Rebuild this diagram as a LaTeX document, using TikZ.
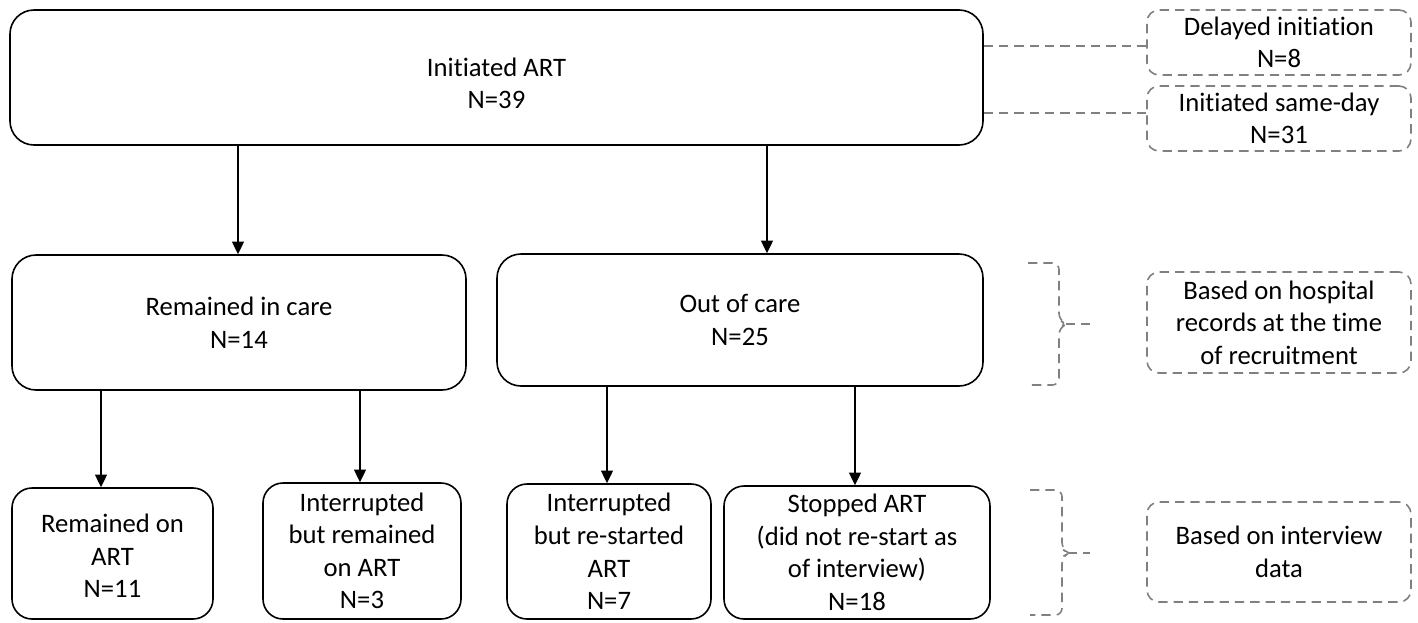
\documentclass[tikz,border=0pt]{standalone}
\usepackage{fontspec}
\setmainfont[Ligatures=NoCommon]{Carlito}
\usetikzlibrary{fit,arrows.meta}
\definecolor{dgray}{HTML}{808080}
\begin{document}
\begin{tikzpicture}[x=0.75pt,y=-0.75pt,
  txt/.style={align=center,inner sep=0pt,font=\fontsize{20}{24.4}\selectfont},
  box/.style={draw=black,line width=1.2pt,rounded corners=18pt,inner sep=0pt},
  sbox/.style={box,rounded corners=15pt},
  dbox/.style={draw=dgray,line width=1.2pt,dash pattern=on 7pt off 4.5pt,rounded corners=9pt,inner sep=0pt},
  arr/.style={line width=1.1pt,-{Triangle[length=9.5pt,width=9pt]}},
  dline/.style={draw=dgray,line width=1.2pt,dash pattern=on 7pt off 4.5pt}]
\useasboundingbox (0,0) rectangle (1418,622);
% main boxes
\node[box,fit={(10,10) (983,145)}] (top) {};
\node[txt,yshift=-4.5pt] (topt) at (top.center) {Initiated ART\\N=39};
\node[box,fit={(12,255) (466,390)}] (rem) {};
\node[txt] (remt) at (rem.center) {Remained in care\\N=14};
\node[box,fit={(497,254) (983,386)}] (out) {};
\node[txt] (outt) at (out.center) {Out of care\\N=25};
\node[sbox,fit={(12,488) (213,619)}] (b1) {};
\node[txt,yshift=-2pt] (b1t) at (b1.center) {Remained on\\ART\\N=11};
\node[sbox,fit={(263,483) (461,619)}] (b2) {};
\node[txt] (b2t) at (b2.center) {Interrupted\\but remained\\on ART\\N=3};
\node[sbox,fit={(507,484) (711,619)}] (b3) {};
\node[txt] (b3t) at (b3.center) {Interrupted\\but re-started\\ART\\N=7};
\node[sbox,fit={(724,486) (990,619)}] (b4) {};
\node[txt] (b4t) at (b4.center) {Stopped ART\\(did not re-start as\\of interview)\\N=18};
% dashed side boxes
\node[dbox,fit={(1147,10) (1411,75)}] (del) {};
\node[txt] (delt) at (del.center) {Delayed initiation\\N=8};
\node[dbox,fit={(1147,86) (1411,151)}] (same) {};
\node[txt] (samet) at (same.center) {Initiated same-day\\N=31};
\node[dbox,fit={(1147,272) (1411,373)}] (hosp) {};
\node[txt] (hospt) at (hosp.center) {Based on hospital\\records at the time\\of recruitment};
\node[dbox,fit={(1147,502) (1411,602)}] (intv) {};
\node[txt] (intvt) at (intv.center) {Based on interview\\data};
% arrows
\coordinate (x1) at (238,0);
\coordinate (x2) at (767,0);
\coordinate (x3) at (101,0);
\coordinate (x4) at (360,0);
\coordinate (x5) at (607,0);
\coordinate (x6) at (855,0);
\draw[arr] (x1 |- top.south) -- (x1 |- rem.north);
\draw[arr] (x2 |- top.south) -- (x2 |- out.north);
\draw[arr] (x3 |- rem.south) -- (x3 |- b1.north);
\draw[arr] (x4 |- rem.south) -- (x4 |- b2.north);
\draw[arr] (x5 |- out.south) -- (x5 |- b3.north);
\draw[arr] (x6 |- out.south) -- (x6 |- b4.north);
% dashed connectors to side boxes
\coordinate (y1) at (0,46);
\coordinate (y2) at (0,113);
\draw[dline] (top.east |- y1) -- (del.west |- y1);
\draw[dline] (top.east |- y2) -- (same.west |- y2);
% braces
\draw[dline,rounded corners=5pt] (1028,263) -- (1059,263) -- (1059,320) -- (1067,324) -- (1059,328) -- (1059,385) -- (1028,385);
\coordinate (t1) at (1066,324);
\draw[dline] (t1) -- (t1 -| 1090,0);
\draw[dline,rounded corners=5pt] (1030,490) -- (1062,490) -- (1062,549) -- (1069,553) -- (1062,557) -- (1062,615) -- (1030,615);
\coordinate (t2) at (1068,553);
\draw[dline] (t2) -- (t2 -| 1090,0);
\end{tikzpicture}
\end{document}
